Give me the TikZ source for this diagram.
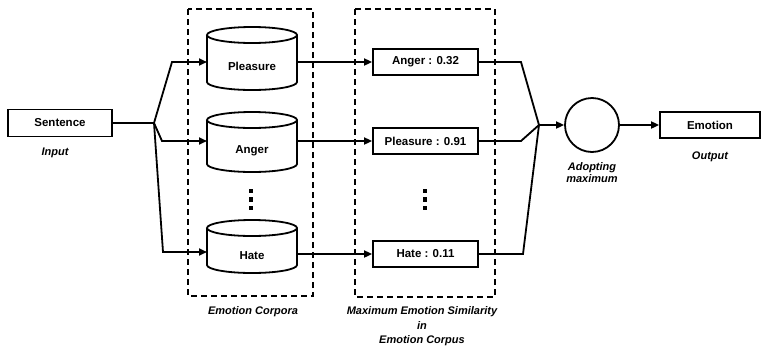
\documentclass[tikz,border=0pt]{standalone}
\usepackage{fontspec}
\setmainfont{Liberation Sans}
\usetikzlibrary{arrows.meta}
\tikzset{
  conn/.style={line width=1.8pt},
  arr/.style={conn,-{Triangle[length=8pt,width=7pt]}},
  frame/.style={draw,line width=1.3pt,dash pattern=on 6pt off 4pt},
  boxnode/.style={draw,line width=1.8pt,inner sep=0pt,font=\fontsize{11.5}{12}\selectfont\bfseries},
  lbl/.style={font=\fontsize{11}{12}\selectfont\bfseries\itshape,inner sep=0pt},
  cyltext/.style={inner sep=0pt,font=\fontsize{11.5}{12}\selectfont\bfseries},
  cylline/.style={line width=1.8pt},
  dot/.style={fill,rectangle,inner sep=0pt,minimum size=4.2pt}
}
% #1 name, #2 x center, #3 top, #4 bottom, #5 text y, #6 text
\newcommand\mycyl[6]{%
  \node[cyltext,minimum width=90pt,minimum height=20pt] (#1) at (#2,#5) {#6};
  \draw[cylline] (#2-45,#3+8) -- (#2-45,#4-8)
     arc[start angle=180,end angle=360,x radius=45pt,y radius=8pt]
     -- (#2+45,#3+8)
     arc[start angle=0,end angle=360,x radius=45pt,y radius=8pt];
  \coordinate (#1w) at (#2-45,#5);
  \coordinate (#1e) at (#2+45,#5);
}
\begin{document}
\begin{tikzpicture}[x=1pt,y=-1pt]
\useasboundingbox (0,0) rectangle (761,346);

% frames
\draw[frame] (188,9) rectangle (313,296);
\draw[frame] (355,9) rectangle (495,297);

% input
\node[boxnode,minimum width=104pt,minimum height=27pt] (sent) at (60,123) {Sentence};
\node[lbl] (inp) at (55,153) {Input};

% cylinders
\mycyl{cp}{252}{27}{90}{66}{Pleasure}
\mycyl{ca}{252}{112}{172}{151}{Anger}
\mycyl{ch}{252}{220}{273}{256}{Hate}

% similarity boxes
\node[boxnode,minimum width=105pt,minimum height=26pt] (sa) at (425.5,62) {Anger : 0.32};
\node[boxnode,minimum width=105pt,minimum height=26pt] (sp) at (425.5,141) {Pleasure : 0.91};
\node[boxnode,minimum width=105pt,minimum height=26pt] (sh) at (425.5,254) {Hate : 0.11};

% dots
\node[dot] (d1) at (251,191) {};
\node[dot] (d2) at (251,199.5) {};
\node[dot] (d3) at (251,208) {};
\node[dot] (e1) at (425,191) {};
\node[dot] (e2) at (425,199.5) {};
\node[dot] (e3) at (425,208) {};

% branching
\coordinate (bp) at (154,123);
\coordinate (b1) at (172,62);
\coordinate (b2) at (162,141);
\coordinate (b3) at (163,252);
\draw[conn] (sent.east) -- (bp);
\draw[arr] (bp) -- (b1) -- (b1 -| cpw);
\draw[arr] (bp) -- (b2) -- (b2 -| caw);
\draw[arr] (bp) -- (b3) -- (b3 -| chw);

% cylinders to boxes
\draw[arr] (cpe |- sa.west) -- (sa.west);
\draw[arr] (cae |- sp.west) -- (sp.west);
\draw[arr] (che |- sh.west) -- (sh.west);

% merging
\node[draw,circle,line width=1.8pt,minimum size=54pt,inner sep=0pt] (mx) at (592,125) {};
\coordinate (mp) at (539,125);
\coordinate (m1) at (521,62);
\coordinate (m2) at (521,141);
\coordinate (m3) at (523,254);
\draw[conn] (sa.east) -- (m1) -- (mp);
\draw[conn] (sp.east) -- (m2) -- (mp);
\draw[conn] (sh.east) -- (m3) -- (mp);
\draw[arr] (mp) -- (mx.west);

% output
\node[boxnode,minimum width=100pt,minimum height=26pt] (emo) at (710,125) {Emotion};
\draw[arr] (mx.east) -- (emo.west);

% labels
\node[lbl] (lout) at (710,157) {Output};
\node[lbl,align=center] (ladopt) at (592,172.5) {Adopting\\maximum};
\node[lbl] (lcorp) at (253,312) {Emotion Corpora};
\node[lbl,align=center,font=\fontsize{11}{14.5}\selectfont\bfseries\itshape] (lmax) at (422,326.5) {Maximum Emotion Similarity\\in\\Emotion Corpus};
\end{tikzpicture}
\end{document}
